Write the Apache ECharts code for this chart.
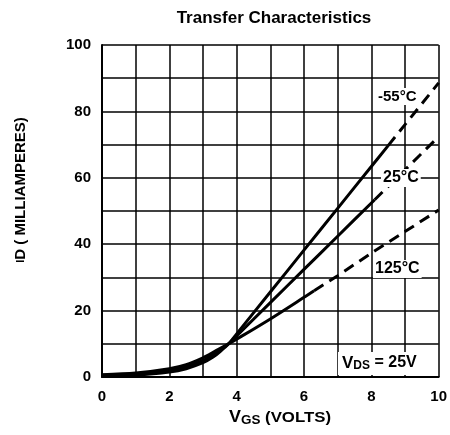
<!DOCTYPE html>
<html>
<head>
<meta charset="utf-8">
<script src="https://cdn.jsdelivr.net/npm/echarts@6/dist/echarts.min.js"></script>
<style>
  html, body { margin: 0; padding: 0; background: #fff; }
  #chart { width: 450px; height: 435px; }
</style>
</head>
<body>
<div id="chart"></div>
<script>
// VGS (V) vs ID (mA)
const minus55Solid = [[0, 0.3], [1, 0.6], [2, 1.5], [2.5, 2.5], [3, 4.3], [3.3, 6], [3.5, 7.6], [3.76, 10], [4, 13], [5, 25.6], [6, 38.2], [7, 50.8], [8, 63.4], [8.5, 69.7]];
const minus55Dash = [[8.5, 69.7], [9, 76], [10, 88.6]];
const t25Solid = [[0, 0.5], [1, 0.9], [2, 2], [2.5, 3.1], [3, 5], [3.3, 6.7], [3.5, 8.1], [3.76, 10], [4, 12.4], [5, 22.4], [6, 32.4], [7, 42.4], [8.1, 53.4]];
const t25Dash = [[8.1, 53.4], [9, 62.4], [10, 72.4]];
const t125Solid = [[0, 0.7], [1, 1.2], [2, 2.5], [2.5, 3.7], [3, 5.8], [3.3, 7.4], [3.5, 8.6], [3.76, 10], [4, 11.4], [5, 17.5], [6, 24], [6.3, 26]];
const t125Dash = [[6.3, 26], [7, 30.5], [8, 37.3], [9, 43.8], [10, 50.3]];

const xTicks = [0, 2, 4, 6, 8, 10];
const yTicks = [0, 20, 40, 60, 80, 100];

const chart = echarts.init(document.getElementById('chart'));

const font = 'Liberation Sans, Arial, sans-serif';

function curve(data, dashed) {
    return {
        type: 'line',
        data: data,
        smooth: 0.3,
        symbol: 'none',
        silent: true,
        lineStyle: {
            color: '#000',
            width: 3,
            type: dashed ? [11, 7] : 'solid'
        },
        z: 5
    };
}

const option = {
    backgroundColor: '#fff',
    animation: false,
    grid: { left: 102, right: 8, top: 45, bottom: 58 },
    xAxis: {
        type: 'value',
        min: 0,
        max: 10,
        interval: 1,
        axisLine: { show: true, lineStyle: { color: '#000', width: 2 } },
        axisTick: { show: false },
        splitLine: { show: true, lineStyle: { color: '#000', width: 1.5 } },
        axisLabel: {
            margin: 12,
            fontFamily: font,
            fontSize: 15,
            fontWeight: 'bold',
            color: '#000',
            formatter: v => xTicks.includes(v) ? String(v) : ''
        }
    },
    yAxis: {
        type: 'value',
        min: 0,
        max: 100,
        interval: 10,
        axisLine: { show: true, lineStyle: { color: '#000', width: 2 } },
        axisTick: { show: false },
        splitLine: { show: true, lineStyle: { color: '#000', width: 1.5 } },
        axisLabel: {
            margin: 11,
            fontFamily: font,
            fontSize: 15,
            fontWeight: 'bold',
            color: '#000',
            formatter: v => yTicks.includes(v) ? String(v) : ''
        }
    },
    series: [
        curve(minus55Solid, false),
        curve(minus55Dash, true),
        curve(t25Solid, false),
        curve(t25Dash, true),
        curve(t125Solid, false),
        curve(t125Dash, true)
    ],
    graphic: [
        // title
        {
            type: 'text', x: 274, y: 18, z: 10,
            style: {
                text: 'Transfer Characteristics',
                font: 'bold 17px Liberation Sans, sans-serif',
                fill: '#000', align: 'center', verticalAlign: 'middle'
            }
        },
        // y axis name
        {
            type: 'text', x: 21, y: 190, rotation: Math.PI / 2, z: 10,
            style: {
                text: '{s|I}{v|D ( MILLIAMPERES)}',
                align: 'center', verticalAlign: 'middle',
                rich: {
                    s: { font: 'bold 11px Liberation Sans, sans-serif', fill: '#000' },
                    v: { font: 'bold 15px Liberation Sans, sans-serif', fill: '#000' }
                }
            }
        },
        // x axis name
        {
            type: 'text', x: 280, y: 418, z: 10, scaleX: 1.12,
            style: {
                text: '{v|V}{s|GS}{n| (VOLTS)}',
                align: 'center', verticalAlign: 'middle',
                rich: {
                    v: { font: 'bold 16px Liberation Sans, sans-serif', fill: '#000' },
                    s: { font: 'bold 12px Liberation Sans, sans-serif', fill: '#000', padding: [5, 0, 0, 0] },
                    n: { font: 'bold 15px Liberation Sans, sans-serif', fill: '#000' }
                }
            }
        },
        {
            type: 'text', left: 376, top: 88, z: 10,
            style: { text: '-55°C', font: 'bold 15px Liberation Sans, sans-serif', fill: '#000', backgroundColor: '#fff', padding: [1, 2] }
        },
        {
            type: 'text', left: 381, top: 169, z: 10,
            style: { text: '25°C', font: 'bold 16px Liberation Sans, sans-serif', fill: '#000', backgroundColor: '#fff', padding: [1, 2] }
        },
        {
            type: 'text', left: 373, top: 260, z: 10,
            style: { text: '125°C', font: 'bold 16px Liberation Sans, sans-serif', fill: '#000', backgroundColor: '#fff', padding: [1, 2] }
        },
        {
            type: 'text', left: 338, top: 352, z: 10,
            style: {
                text: '{v|V}{s|DS}{n| = 25V}',
                backgroundColor: '#fff',
                padding: [2, 6, 3, 4],
                rich: {
                    v: { font: 'bold 17px Liberation Sans, sans-serif', fill: '#000' },
                    s: { font: 'bold 12px Liberation Sans, sans-serif', fill: '#000', padding: [6, 0, 0, 0] },
                    n: { font: 'bold 16px Liberation Sans, sans-serif', fill: '#000' }
                }
            }
        }
    ]
};

chart.setOption(option);
</script>
</body>
</html>
